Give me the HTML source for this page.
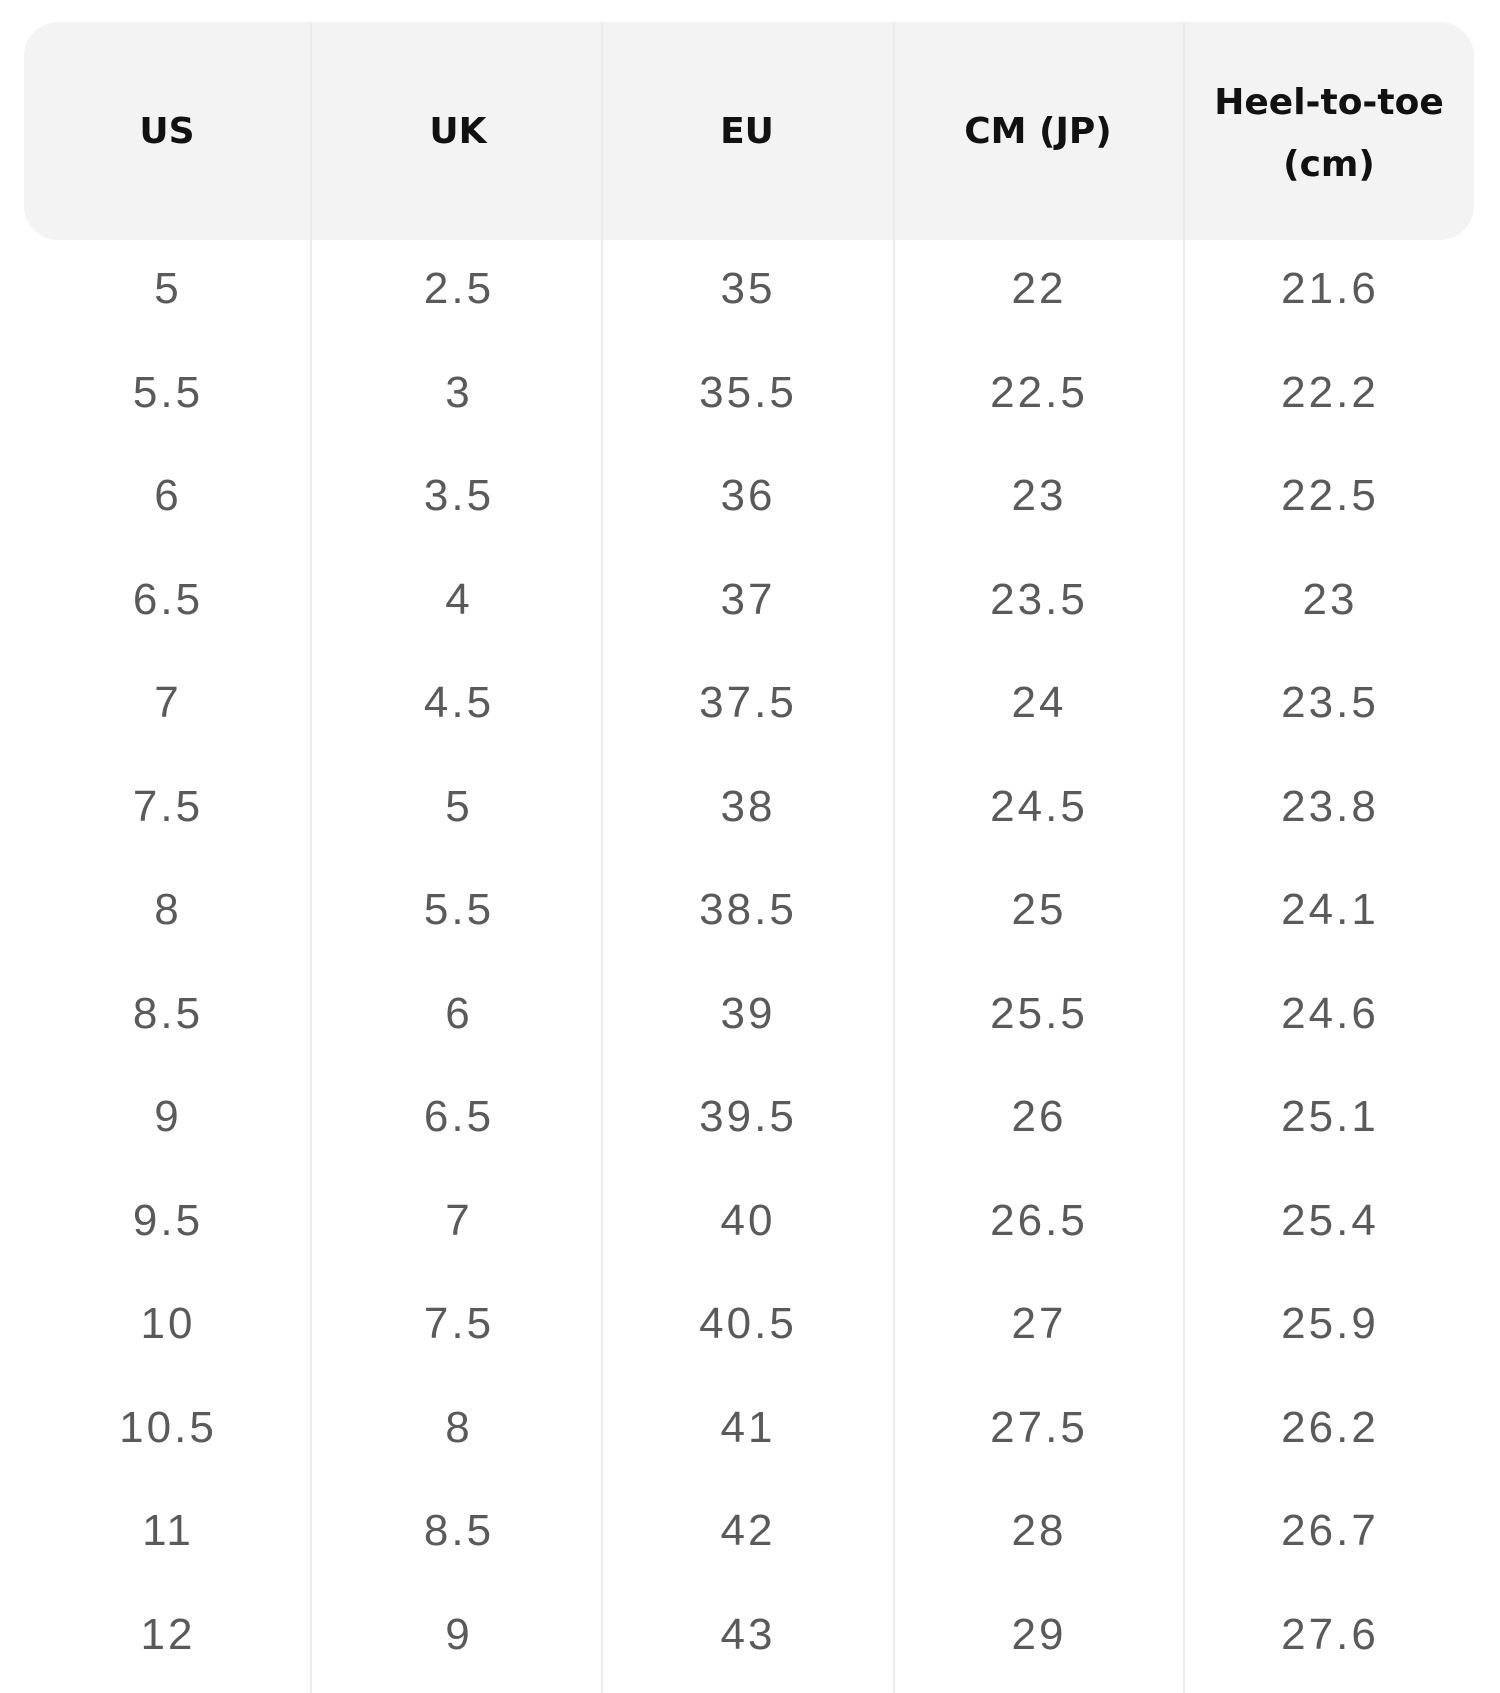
<!DOCTYPE html>
<html><head><meta charset="utf-8"><style>
body{margin:0;width:1500px;height:1693px;background:#fff;position:relative;overflow:hidden;font-family:"Liberation Sans",sans-serif}
.hdr{position:absolute;left:24px;top:22px;width:1450px;height:218px;background:#f3f3f3;border-radius:34px}
.vl{position:absolute;top:22px;width:2px;height:1671px;background:#ececec}
.h{position:absolute;width:300px;margin-left:-150px;text-align:center;font-family:"DejaVu Sans",sans-serif;font-weight:bold;font-size:36px;color:#111;line-height:62px}
.c{position:absolute;width:280px;margin-left:-140px;text-align:center;font-size:44px;letter-spacing:3px;color:#5a5a5a;line-height:60px}
</style></head><body>
<div class="hdr"></div>
<div class="vl" style="left:310px"></div>
<div class="vl" style="left:601px"></div>
<div class="vl" style="left:893px"></div>
<div class="vl" style="left:1183px"></div>
<div class="h" style="left:167px;top:101px">US</div>
<div class="h" style="left:458px;top:101px">UK</div>
<div class="h" style="left:747px;top:101px">EU</div>
<div class="h" style="left:1038px;top:101px">CM (JP)</div>
<div class="h" style="left:1329px;top:72px">Heel-to-toe<br>(cm)</div>
<div id="rows"></div>
<script>
var d=[["5","2.5","35","22","21.6"],["5.5","3","35.5","22.5","22.2"],["6","3.5","36","23","22.5"],["6.5","4","37","23.5","23"],["7","4.5","37.5","24","23.5"],["7.5","5","38","24.5","23.8"],["8","5.5","38.5","25","24.1"],["8.5","6","39","25.5","24.6"],["9","6.5","39.5","26","25.1"],["9.5","7","40","26.5","25.4"],["10","7.5","40.5","27","25.9"],["10.5","8","41","27.5","26.2"],["11","8.5","42","28","26.7"],["12","9","43","29","27.6"]];
var xs=[167,458,747,1038,1329],h="";
d.forEach(function(r,i){var y=289+i*103.5-30;r.forEach(function(v,j){h+='<div class="c" style="left:'+(xs[j]+1)+'px;top:'+y+'px">'+v+'</div>';});});
document.getElementById("rows").innerHTML=h;
</script>
</body></html>
